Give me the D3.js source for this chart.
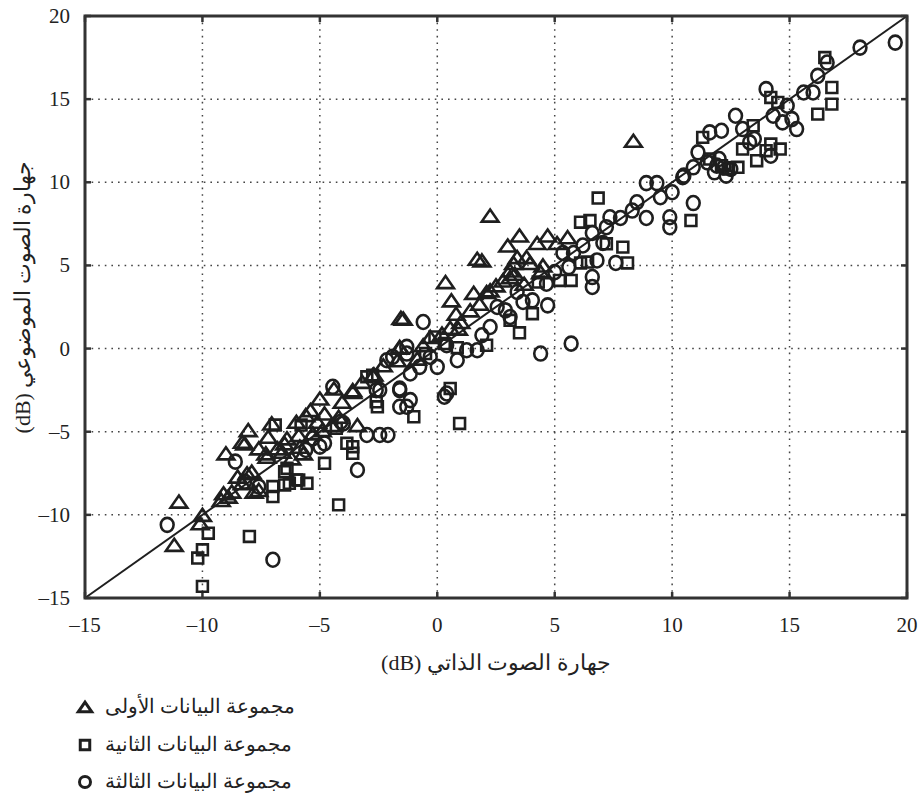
<!DOCTYPE html>
<html>
<head>
<meta charset="utf-8">
<script src="https://cdn.jsdelivr.net/npm/d3@7.9.0/dist/d3.min.js"></script>
<style>
  body { margin: 0; background: #fff; }
</style>
</head>
<body>
<svg id="chart" width="919" height="799"></svg>
<script>
// tick values for both axes
const ticks = [-15, -10, -5, 0, 5, 10, 15, 20];

// series 1 - triangles (x = subjective loudness, y = objective loudness)
const set1 = [
  [-11.0,-9.2],[-11.2,-11.8],[-10.0,-10.0],[-10.1,-10.5],[-9.2,-9.1],[-8.75,-8.6],[-9.0,-6.3],
  [-8.3,-5.6],[-8.05,-4.9],[-7.8,-8.6],[-7.3,-6.3],[-7.2,-5.3],[-7.05,-4.5],[-6.5,-5.7],
  [-8.5,-7.7],[-8.1,-7.5],[-8.2,-5.7],[-7.6,-6.0],[-7.25,-6.5],[-6.4,-5.4],[-5.85,-5.9],
  [-5.4,-3.7],[-5.0,-3.0],[-4.4,-2.4],[-3.6,-2.5],[-4.05,-3.2],[-5.7,-6.3],[-5.3,-5.1],
  [-2.75,-1.6],[-1.6,0.1],[-7.6,-8.5],[-9.1,-8.7],[-3.4,-4.6],[-6.0,-4.4],[-5.6,-4.0],
  [-4.8,-3.9],[-4.5,-4.6],[-6.2,-6.6],[-6.8,-6.0],[-5.1,-4.4],[-4.2,-4.1],[-2.3,-1.0],
  [-3.2,-2.0],[-8.3,-8.1],[-7.9,-7.4],[-6.6,-6.2],[-5.9,-5.2],[-4.9,-4.9],[-8.9,-8.9],
  [0.35,4.0],[0.6,2.9],[1.7,5.4],[-1.45,1.8],[-1.55,1.85],[0.8,2.1],[1.4,2.3],[0.55,1.25],
  [1.55,3.35],[2.1,3.4],[2.5,3.8],[3.0,6.2],[3.5,6.8],[4.25,6.35],[3.1,4.7],[3.95,5.15],
  [-0.3,0.7],[-1.6,0.05],[-0.85,-0.6],[-1.7,-0.7],[-2.7,-1.55],[-3.6,-2.6],[3.4,5.5],
  [1.0,1.6],[0.2,0.9],[1.8,2.7],[2.8,4.1],[3.3,4.5],[3.7,3.9],[4.4,4.6],[0.9,1.2],[-0.6,0.2],
  [8.35,12.5],[2.25,8.0],[4.7,6.8],[5.1,6.35],[5.55,6.7],[3.25,5.15],[3.8,5.5],[4.5,5.0],
  [3.1,4.3],[2.25,3.5],[1.9,5.3]
];

// series 2 - squares
const set2 = [
  [-10.0,-14.3],[-10.2,-12.6],[-10.0,-12.1],[-9.75,-11.1],[-8.0,-11.3],[-7.0,-8.9],[-7.0,-8.3],
  [-6.5,-8.2],[-6.5,-7.4],[-5.9,-7.9],[-6.9,-4.6],[-5.8,-4.6],[-4.2,-9.4],[0.95,-4.5],
  [-2.75,-1.6],[-2.55,-3.5],[-3.85,-5.7],[-3.6,-6.3],[-4.8,-6.9],[-6.4,-7.2],[-6.0,-7.9],
  [-5.55,-8.1],[-6.3,-8.1],[-1.0,-4.1],[-3.6,-5.9],[-4.3,-4.8],[-2.6,-3.2],
  [-3.0,-1.7],[-0.1,0.7],[0.55,-2.4],[3.5,0.95],[4.05,2.1],[2.1,0.2],[3.1,1.7],[0.85,0.05],
  [-0.5,-0.3],[0.3,0.3],[4.3,4.0],
  [6.85,9.05],[6.1,7.6],[6.5,7.7],[7.9,6.1],[8.1,5.15],[10.8,7.7],[5.2,4.1],[5.7,4.1],
  [6.1,5.15],[6.4,5.2],[7.2,6.3],
  [16.5,17.5],[16.8,15.7],[16.8,14.7],[16.2,14.1],[11.3,12.7],[13.45,13.4],[13.0,12.0],
  [13.6,11.3],[14.6,12.0],[14.2,12.3],[12.8,10.9],[14.2,15.1],[14.5,14.8],[12.1,11.0],
  [11.6,11.4],[12.4,10.8],[14.0,11.9]
];

// series 3 - circles
const set3 = [
  [-11.5,-10.6],[-7.0,-12.7],[-8.6,-6.8],[-7.6,-8.3],[-8.2,-8.0],[-4.45,-2.3],[-3.4,-7.3],
  [-1.6,-2.4],[-1.6,-3.5],[-1.15,-3.1],[-3.0,-5.2],[-2.45,-5.2],[-2.1,-5.2],[-4.0,-4.5],
  [-2.45,-2.5],[-2.15,-0.7],[-1.3,-0.3],[-4.1,-4.4],[-5.0,-5.9],[-1.3,-3.5],[-5.3,-5.4],
  [-4.8,-5.7],[-5.6,-6.1],
  [-0.6,1.6],[4.4,-0.3],[5.7,0.3],[4.7,2.6],[3.65,2.8],[2.55,2.5],[1.7,-0.1],[2.25,1.3],
  [0.4,0.2],[-0.3,-0.5],[-1.15,-1.5],[-1.9,-0.5],[-1.3,0.1],[-1.6,-2.5],[-2.6,-2.5],
  [0.4,-2.7],[0.3,-2.9],[-0.75,-1.1],[0.0,-1.1],[0.85,-0.7],[1.25,-0.1],[3.1,1.9],[4.05,2.9],
  [3.4,3.4],[2.9,2.3],[1.9,0.8],[5.0,4.6],[5.6,4.9],[6.2,6.2],[7.2,7.3],
  [8.9,9.95],[9.35,9.95],[9.5,9.1],[10.0,9.4],[10.45,10.3],[10.9,10.9],[9.9,7.9],[9.9,7.3],
  [10.9,8.75],[8.5,8.8],[8.3,8.3],[7.35,7.9],[7.8,7.85],[8.9,7.85],[6.6,6.95],[7.05,6.35],
  [7.6,5.15],[6.6,4.3],[6.6,3.7],[5.35,5.75],[4.65,3.9],[5.8,5.75],[6.8,5.3],
  [19.5,18.4],[18.0,18.1],[16.6,17.2],[16.2,16.4],[14.0,15.6],[12.7,14.0],[11.6,13.0],
  [12.1,13.1],[11.1,11.8],[11.5,11.2],[12.0,11.4],[12.5,10.8],[12.3,10.4],[10.5,10.4],
  [14.3,14.0],[14.7,13.6],[15.3,13.2],[15.1,13.8],[15.6,15.4],[16.0,15.4],[14.9,14.6],
  [13.3,12.4],[14.2,11.6],[13.5,12.6],[13.0,13.2],[11.8,10.6],[12.2,10.9],[11.9,11.0]
];

const legendLabels = ['مجموعة البيانات الأولى', 'مجموعة البيانات الثانية', 'مجموعة البيانات الثالثة'];
const xTitle = 'جهارة الصوت الذاتي (dB)';
const yTitle = 'جهارة الصوت الموضوعي (dB)';

const serif = '"Liberation Serif", "Times New Roman", "DejaVu Serif", serif';
const svg = d3.select('#chart').attr('font-family', serif);
const margin = { left: 85, top: 16, right: 12, bottom: 201 };
const W = 919, H = 799;
const x = d3.scaleLinear().domain([-15, 20]).range([margin.left, W - margin.right]);
const y = d3.scaleLinear().domain([-15, 20]).range([H - margin.bottom, margin.top]);
const ink = '#1f1f1f';

// grid
const grid = svg.append('g');
ticks.slice(1, -1).forEach(t => {
  grid.append('line').attr('x1', x(t)).attr('x2', x(t)).attr('y1', y(20)).attr('y2', y(-15));
  grid.append('line').attr('y1', y(t)).attr('y2', y(t)).attr('x1', x(-15)).attr('x2', x(20));
});
grid.selectAll('line').attr('stroke', '#444').attr('stroke-width', 1.5).attr('stroke-dasharray', '1.6,5');

// inner ticks on all four sides
const tk = svg.append('g').attr('stroke', '#333').attr('stroke-width', 2.5);
ticks.forEach(t => {
  tk.append('line').attr('x1', x(t)).attr('x2', x(t)).attr('y1', y(-15)).attr('y2', y(-15) - 6);
  tk.append('line').attr('x1', x(t)).attr('x2', x(t)).attr('y1', y(20)).attr('y2', y(20) + 6);
  tk.append('line').attr('y1', y(t)).attr('y2', y(t)).attr('x1', x(-15)).attr('x2', x(-15) + 6);
  tk.append('line').attr('y1', y(t)).attr('y2', y(t)).attr('x1', x(20)).attr('x2', x(20) - 6);
});

// tick labels
const fmt = d => (d < 0 ? '\u2013' + Math.abs(d) : String(d));
svg.append('g').selectAll('text').data(ticks).join('text')
  .attr('x', d => x(d)).attr('y', y(-15) + 34).attr('fill', '#222')
  .attr('text-anchor', 'middle').attr('font-size', 21).text(fmt);
svg.append('g').selectAll('text').data(ticks).join('text')
  .attr('x', x(-15) - 15).attr('y', d => y(d) + 7).attr('fill', '#222')
  .attr('text-anchor', 'end').attr('font-size', 21).text(fmt);

// identity line
svg.append('line')
  .attr('x1', x(-15)).attr('y1', y(-15)).attr('x2', x(20)).attr('y2', y(20))
  .attr('stroke', ink).attr('stroke-width', 2);

// custom wide triangle symbol
const wideTriangle = {
  draw(ctx, size) {
    const w = Math.sqrt(size) * 1.5, h = w * 0.72;
    ctx.moveTo(0, -h / 2);
    ctx.lineTo(w / 2, h / 2);
    ctx.lineTo(-w / 2, h / 2);
    ctx.closePath();
  }
};
const triPath = d3.symbol().type(wideTriangle).size(125)();
const sqPath = d3.symbol().type(d3.symbolSquare).size(118)();

const marks = svg.append('g').attr('fill', 'none').attr('stroke', ink).attr('stroke-width', 2.6);
marks.selectAll('.s2').data(set2).join('path').attr('class', 's2')
  .attr('d', sqPath).attr('transform', d => `translate(${x(d[0])},${y(d[1])})`);
marks.selectAll('.s3').data(set3).join('ellipse').attr('class', 's3')
  .attr('cx', d => x(d[0])).attr('cy', d => y(d[1])).attr('rx', 6.4).attr('ry', 7);
marks.selectAll('.s1').data(set1).join('path').attr('class', 's1')
  .attr('d', triPath).attr('transform', d => `translate(${x(d[0])},${y(d[1])})`);

// frame
svg.append('rect')
  .attr('x', x(-15)).attr('y', y(20)).attr('width', x(20) - x(-15)).attr('height', y(-15) - y(20))
  .attr('fill', 'none').attr('stroke', '#333').attr('stroke-width', 3);

// axis titles
svg.append('text').attr('x', 496).attr('y', 670).attr('direction', 'rtl').attr('fill', '#222')
  .attr('text-anchor', 'middle').attr('font-size', 22).text(xTitle);
svg.append('text').attr('transform', 'translate(30,297) rotate(-90)').attr('direction', 'rtl')
  .attr('fill', '#222').attr('text-anchor', 'middle').attr('font-size', 22).text(yTitle);

// legend
const legY = [707, 745, 782];
const lg = svg.append('g');
lg.append('path').attr('d', d3.symbol().type(wideTriangle).size(80)())
  .attr('transform', `translate(85,${legY[0]})`);
lg.append('path').attr('d', d3.symbol().type(d3.symbolSquare).size(90)())
  .attr('transform', `translate(85,${legY[1]})`);
lg.append('ellipse').attr('cx', 85).attr('cy', legY[2]).attr('rx', 5.5).attr('ry', 5.5);
lg.selectAll('path, ellipse').attr('fill', 'none').attr('stroke', ink).attr('stroke-width', 3);
lg.selectAll('text').data(legendLabels).join('text')
  .attr('x', 105).attr('y', (d, i) => legY[i] + 6).attr('fill', '#222')
  .attr('font-size', 20).text(d => d);
</script>
</body>
</html>
